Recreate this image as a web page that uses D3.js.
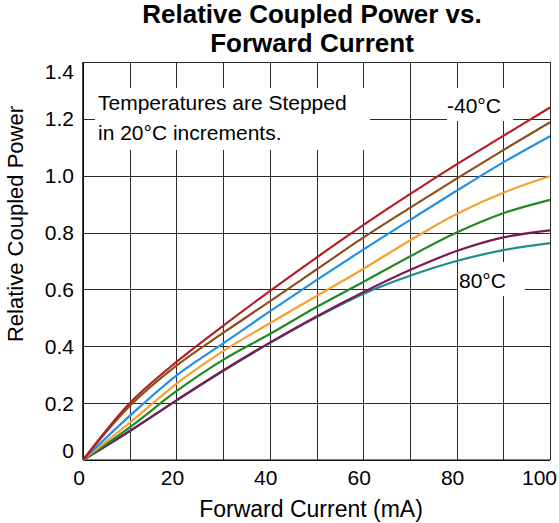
<!DOCTYPE html>
<html lang="en">
  <head>
    <meta charset="UTF-8" />
    <script src="https://cdn.jsdelivr.net/npm/d3@7"></script>
    <title>Relative Coupled Power vs. Forward Current</title>
    <style>
      body {
        margin: 0;
        background: white;
      }
      svg {
        font-family: "Liberation Sans", Arial, sans-serif;
      }
      .grid line {
        stroke: #2a2a2a;
        stroke-width: 1px;
        shape-rendering: crispEdges;
      }
    </style>
  </head>

  <body>
    <script>
      /*------------------- data --------------------*/
      // forward current in mA
      const current = [0, 10, 20, 30, 40, 50, 60, 70, 80, 90, 100];
      const temps = ["-40", "-20", "0", "20", "40", "60", "80"];
      const pMinus40 = [0, 0.2, 0.345, 0.472, 0.594, 0.712, 0.826, 0.935, 1.04, 1.14, 1.24];
      const pMinus20 = [0, 0.19, 0.332, 0.447, 0.558, 0.67, 0.782, 0.887, 0.99, 1.09, 1.188];
      const p0 = [0, 0.155, 0.297, 0.41, 0.523, 0.633, 0.74, 0.844, 0.947, 1.047, 1.139];
      const p20 = [0, 0.131, 0.268, 0.383, 0.481, 0.577, 0.672, 0.772, 0.865, 0.94, 0.998];
      const p40 = [0, 0.115, 0.242, 0.352, 0.443, 0.538, 0.626, 0.716, 0.8, 0.868, 0.915];
      const p60 = [0, 0.102, 0.21, 0.315, 0.413, 0.505, 0.59, 0.668, 0.735, 0.783, 0.808];
      const p80 = [0, 0.101, 0.209, 0.313, 0.411, 0.502, 0.584, 0.648, 0.7, 0.738, 0.763];
      const xTicks = [0, 20, 40, 60, 80, 100];
      const yTicks = [0, 0.2, 0.4, 0.6, 0.8, 1.0, 1.2, 1.4];
      const yTickLabels = ["0", "0.2", "0.4", "0.6", "0.8", "1.0", "1.2", "1.4"];

      const series = [
        { t: "80", v: p80, color: "#218c8c" },
        { t: "60", v: p60, color: "#7b1a56" },
        { t: "40", v: p40, color: "#1f8a22" },
        { t: "20", v: p20, color: "#f5a030" },
        { t: "0", v: p0, color: "#2590e2" },
        { t: "-20", v: pMinus20, color: "#8c4f1a" },
        { t: "-40", v: pMinus40, color: "#b41e22" },
      ];

      /*------------------- layout --------------------*/
      const W = 559,
        H = 523;
      const plot = { left: 83, right: 550, top: 62, bottom: 460 };

      const svg = d3
        .select("body")
        .append("svg")
        .attr("width", W)
        .attr("height", H);

      const x = d3.scaleLinear().domain([0, 100]).range([plot.left, plot.right]);
      const y = d3.scaleLinear().domain([0, 1.4]).range([plot.bottom, plot.top]);

      /*------------------- grid --------------------*/
      svg
        .append("g")
        .attr("class", "grid")
        .attr("transform", `translate(0,${plot.bottom})`)
        .call(
          d3
            .axisBottom(x)
            .tickValues(d3.range(0, 101, 10))
            .tickSize(-(plot.bottom - plot.top))
            .tickFormat("")
        )
        .call((g) => g.select(".domain").remove());

      svg
        .append("g")
        .attr("class", "grid")
        .attr("transform", `translate(${plot.left},0)`)
        .call(
          d3
            .axisLeft(y)
            .tickValues(yTicks)
            .tickSize(-(plot.right - plot.left))
            .tickFormat("")
        )
        .call((g) => g.select(".domain").remove());

      // left and bottom axis lines
      svg
        .append("line")
        .attr("x1", plot.left).attr("x2", plot.left)
        .attr("y1", plot.top).attr("y2", plot.bottom)
        .attr("stroke", "#000").attr("stroke-width", 1.5);
      svg
        .append("line")
        .attr("x1", plot.left).attr("x2", plot.right)
        .attr("y1", plot.bottom).attr("y2", plot.bottom)
        .attr("stroke", "#000").attr("stroke-width", 1.2);

      /*------------------- label boxes --------------------*/
      const boxes = [
        { x0: 95, x1: 370, y0: 88, y1: 150 },
        { x0: 447, x1: 513, y0: 88, y1: 121 },
        { x0: 458, x1: 525, y0: 262, y1: 296 },
      ];
      svg
        .selectAll("rect.box")
        .data(boxes)
        .enter()
        .append("rect")
        .attr("x", (d) => d.x0)
        .attr("y", (d) => d.y0)
        .attr("width", (d) => d.x1 - d.x0)
        .attr("height", (d) => d.y1 - d.y0)
        .attr("fill", "white");

      /*------------------- curves --------------------*/
      const line = d3
        .line()
        .x((d, i) => x(current[i]))
        .y((d) => y(d))
        .curve(d3.curveCatmullRom.alpha(0.5));

      svg
        .selectAll("path.curve")
        .data(series)
        .enter()
        .append("path")
        .attr("class", "curve")
        .attr("d", (d) => line(d.v))
        .attr("fill", "none")
        .attr("stroke", (d) => d.color)
        .attr("stroke-width", 2.2)
        .attr("stroke-linejoin", "round");

      /*------------------- tick labels --------------------*/
      svg
        .selectAll("text.xt")
        .data(xTicks)
        .enter()
        .append("text")
        .attr("x", (d) => (d === 100 ? 557 : x(d) - 4))
        .attr("y", 485)
        .attr("text-anchor", (d) => (d === 100 ? "end" : "middle"))
        .attr("font-size", 21)
        .text((d) => d);

      svg
        .selectAll("text.yt")
        .data(yTicks)
        .enter()
        .append("text")
        .attr("x", 74)
        .attr("y", (d, i) => y(d) + 7.5 + (i === 0 ? -10 : i === yTicks.length - 1 ? 9 : 0))
        .attr("text-anchor", "end")
        .attr("font-size", 21)
        .text((d, i) => yTickLabels[i]);

      /*------------------- titles --------------------*/
      const title = svg
        .append("text")
        .attr("text-anchor", "middle")
        .attr("font-size", 26)
        .attr("font-weight", "bold");
      title.append("tspan").attr("x", 312).attr("y", 23).text("Relative Coupled Power vs.");
      title.append("tspan").attr("x", 312).attr("y", 52).text("Forward Current");

      svg
        .append("text")
        .attr("x", 311)
        .attr("y", 517)
        .attr("text-anchor", "middle")
        .attr("font-size", 23)
        .text("Forward Current (mA)");

      svg
        .append("text")
        .attr("transform", "translate(23,224) rotate(-90)")
        .attr("text-anchor", "middle")
        .attr("font-size", 22)
        .text("Relative Coupled Power");

      /*------------------- annotations --------------------*/
      const note = svg.append("text").attr("font-size", 21);
      note.append("tspan").attr("x", 98).attr("y", 110).text("Temperatures are Stepped");
      note.append("tspan").attr("x", 98).attr("y", 140).text("in 20°C increments.");

      svg
        .append("text")
        .attr("x", 447)
        .attr("y", 113)
        .attr("font-size", 21)
        .text("-40°C");

      svg
        .append("text")
        .attr("x", 459)
        .attr("y", 288)
        .attr("font-size", 21)
        .text("80°C");
    </script>
  </body>
</html>
